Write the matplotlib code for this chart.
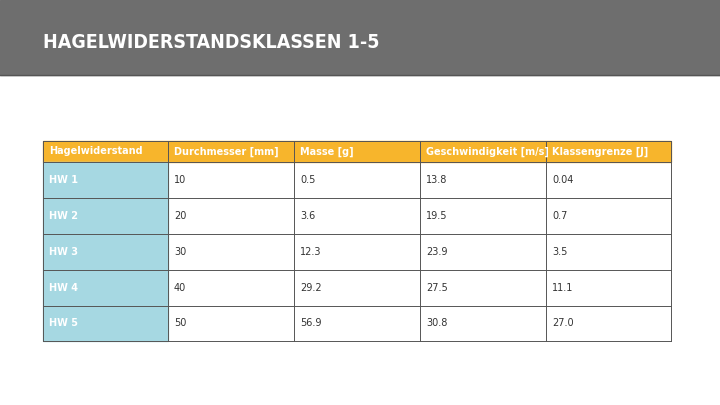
import matplotlib
matplotlib.use("Agg")
import matplotlib.pyplot as plt
from matplotlib.patches import Rectangle

title = "HAGELWIDERSTANDSKLASSEN 1-5"
headers = ["Hagelwiderstand", "Durchmesser [mm]", "Masse [g]", "Geschwindigkeit [m/s]", "Klassengrenze [J]"]
classes = ["HW 1", "HW 2", "HW 3", "HW 4", "HW 5"]
diameter = ["10", "20", "30", "40", "50"]
mass = ["0.5", "3.6", "12.3", "29.2", "56.9"]
speed = ["13.8", "19.5", "23.9", "27.5", "30.8"]
energy = ["0.04", "0.7", "3.5", "11.1", "27.0"]

W, H = 720, 405
fig = plt.figure(figsize=(7.2, 4.05), dpi=100)
ax = fig.add_axes([0, 0, 1, 1])
ax.set_xlim(0, W); ax.set_ylim(H, 0); ax.axis("off")

ax.add_patch(Rectangle((0, 0), W, 75, color="#6e6e6e"))
ax.plot([0, W], [75, 75], color="#555555", lw=1)
ax.text(43, 42, title, color="white", fontsize=14, fontweight="bold",
        family="DejaVu Sans", va="center", fontstretch="condensed",
        transform=ax.transData)

cols = [43, 168, 294, 420, 546, 671]
rows = [141, 162, 198, 234, 270, 306, 341]
orange = "#f7b52c"; blue = "#a6d8e2"

ax.add_patch(Rectangle((cols[0], rows[0]), cols[-1]-cols[0], rows[1]-rows[0], color=orange))
ax.add_patch(Rectangle((cols[0], rows[1]), cols[1]-cols[0], rows[-1]-rows[1], color=blue))
for x in cols:
    ax.plot([x, x], [rows[0], rows[-1]], color="#555555", lw=0.7)
for y in rows:
    ax.plot([cols[0], cols[-1]], [y, y], color="#555555", lw=0.7)

for j, h in enumerate(headers):
    ax.text(cols[j] + 6, (rows[0] + rows[1]) / 2, h, color="white", fontsize=7,
            fontweight="bold", va="center")
data = [classes, diameter, mass, speed, energy]
for j, col in enumerate(data):
    for i, v in enumerate(col):
        ax.text(cols[j] + 6, (rows[i+1] + rows[i+2]) / 2, v,
                color="white" if j == 0 else "#333333", fontsize=7,
                fontweight="bold" if j == 0 else "normal", va="center")

fig.savefig("out.png", dpi=100)
